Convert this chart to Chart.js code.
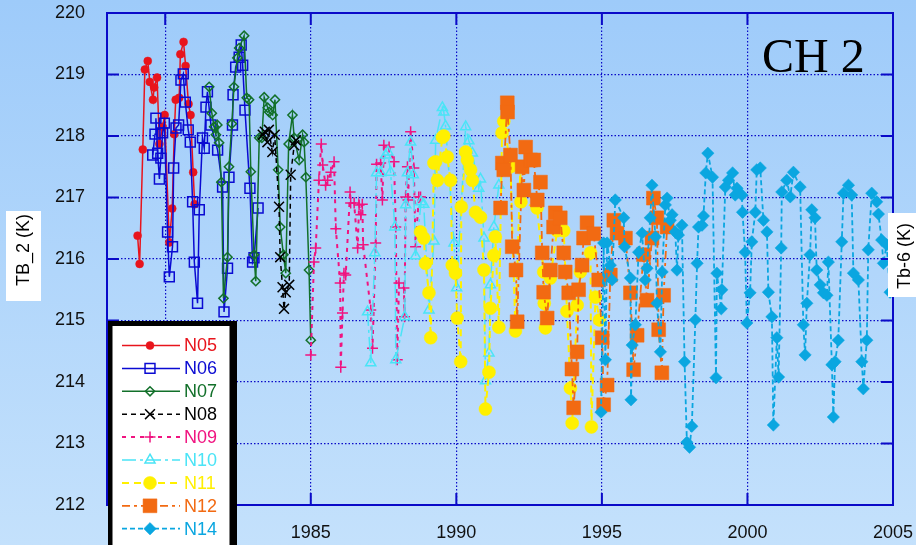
<!DOCTYPE html>
<html>
<head>
<meta charset="utf-8">
<script src="https://cdn.jsdelivr.net/npm/chart.js@4/dist/chart.umd.min.js"></script>
<style>
  html, body { margin: 0; padding: 0; background: #b2d7fb; }
  canvas { display: block; }
</style>
</head>
<body>
<canvas id="tb" width="916" height="545"></canvas>
<script>
// Channel 2 brightness temperature (K) per NOAA satellite, by decimal year.
const yearTicks = [1980, 1985, 1990, 1995, 2000, 2005];
const tbTicks = [212, 213, 214, 215, 216, 217, 218, 219, 220];

const n05Year = [1979.05,1979.12,1979.23,1979.30,1979.40,1979.47,1979.58,1979.62,1979.72,1979.80,
  1979.91,1979.98,1980.14,1980.24,1980.31,1980.36,1980.48,1980.52,1980.63,1980.70,
  1980.80,1980.87,1980.96,1981.01];
const n05Tb = [216.38,215.92,217.78,219.08,219.22,218.88,218.59,218.79,218.95,217.87,
  218.15,218.34,216.27,216.82,218.03,218.59,218.62,219.33,219.53,219.14,
  218.52,218.34,217.41,216.89];

const n06Year = [1979.57,1979.65,1979.68,1979.74,1979.80,1979.85,1979.91,1979.97,1980.08,1980.14,
  1980.25,1980.29,1980.37,1980.46,1980.54,1980.62,1980.69,1980.79,1980.86,1980.94,
  1981.00,1981.11,1981.17,1981.28,1981.34,1981.40,1981.45,1981.57,1981.80,1981.97,
  1982.02,1982.14,1982.19,1982.31,1982.33,1982.42,1982.54,1982.61,1982.66,1982.74,
  1982.91,1983.00,1983.05,1983.19];
const n06Tb = [217.69,218.03,218.29,217.72,217.30,217.64,218.05,218.21,216.44,215.71,
  216.20,217.48,218.13,218.18,218.91,219.01,218.55,218.10,217.90,216.93,
  215.95,215.28,216.80,217.97,217.80,218.47,218.72,218.18,217.77,217.17,
  215.14,215.85,217.33,218.18,218.67,219.12,219.28,219.48,219.15,218.42,
  217.15,215.95,216.02,216.83];

const n07Year = [1981.51,1981.60,1981.68,1981.74,1981.79,1981.85,1981.93,1982.00,1982.14,1982.19,
  1982.29,1982.36,1982.48,1982.54,1982.71,1982.80,1982.88,1982.94,1983.05,1983.11,
  1983.23,1983.32,1983.40,1983.52,1983.57,1983.69,1983.77,1983.88,1983.95,1984.06,
  1984.14,1984.24,1984.37,1984.43,1984.60,1984.72,1984.77,1984.83,1984.94,1985.00];
const n07Tb = [218.80,218.37,218.15,218.02,218.18,217.89,217.25,215.36,216.03,217.50,
  218.20,218.80,219.27,219.43,219.63,218.62,218.59,217.42,216.07,215.64,
  217.97,217.97,218.63,218.46,218.39,218.34,218.59,217.45,216.52,216.07,
  215.77,217.87,218.34,217.97,217.61,218.02,217.90,217.33,215.82,214.68];

const n08Year = [1983.35,1983.42,1983.51,1983.56,1983.68,1983.76,1983.91,1983.95,1984.03,1984.08,
  1984.14,1984.26,1984.31,1984.43,1984.49];
const n08Tb = [218.02,218.07,217.90,218.10,217.74,218.02,216.85,216.03,215.54,215.19,
  215.46,215.58,217.37,217.85,217.93];

const n09Year = [1985.00,1985.11,1985.17,1985.28,1985.36,1985.41,1985.51,1985.58,1985.69,1985.80,
  1985.86,1986.01,1986.03,1986.09,1986.14,1986.20,1986.35,1986.37,1986.49,1986.61,
  1986.66,1986.72,1986.77,1986.80,1987.06,1987.12,1987.23,1987.26,1987.40,1987.46,
  1987.51,1987.69,1987.86,1987.92,1987.97,1988.03,1988.20,1988.22,1988.26,1988.32,
  1988.34,1988.43,1988.54,1988.60,1988.71,1988.77];
const n09Tb = [214.44,215.95,216.18,217.28,217.87,217.53,217.20,217.28,217.41,217.58,
  216.49,215.61,214.24,215.12,215.77,215.74,217.09,216.91,216.91,216.18,
  216.88,216.72,216.89,216.23,215.17,214.55,216.26,217.54,217.56,216.96,
  217.85,217.82,217.58,216.52,214.36,215.61,215.53,215.06,217.01,217.50,
  216.96,218.07,217.48,216.20,217.01,217.01];

const n10Year = [1986.95,1987.06,1987.20,1987.26,1987.40,1987.57,1987.65,1987.74,1987.89,1987.92,
  1988.23,1988.26,1988.32,1988.43,1988.52,1988.60,1988.79,1988.88,1989.06,1989.23,
  1989.29,1989.52,1989.57,1989.63,1989.92,1990.01,1990.32,1990.43,1990.55,1990.77,
  1990.83,1990.95,1991.00,1991.12,1991.17,1991.29,1991.46];
const n10Tb = [215.14,214.31,216.10,217.40,217.40,217.69,217.74,217.41,216.52,214.36,
  215.06,216.88,217.40,217.90,217.37,216.05,216.93,216.89,215.17,216.29,
  217.93,218.46,218.39,218.16,216.26,215.53,218.15,217.92,217.72,217.15,
  217.30,216.34,214.02,214.47,215.58,216.52,217.20];

const n11Year = [1988.77,1988.88,1988.94,1989.06,1989.12,1989.23,1989.29,1989.35,1989.52,1989.57,
  1989.69,1989.80,1989.86,1989.97,1990.03,1990.15,1990.17,1990.32,1990.38,1990.49,
  1990.55,1990.66,1990.83,1990.95,1991.00,1991.12,1991.17,1991.29,1991.34,1991.46,
  1991.57,1991.63,1991.86,1992.03,1992.20,1992.22,1992.77,1993.00,1993.02,1993.06,
  1993.23,1993.46,1993.69,1993.80,1993.92,1993.98,1994.15,1994.26,1994.61,1994.64,
  1994.78,1994.92];
const n11Tb = [216.44,216.34,215.93,215.45,214.72,217.56,217.58,217.28,217.98,218.00,
  217.66,217.28,215.90,215.77,215.04,214.33,216.85,217.74,217.61,217.45,
  217.28,216.76,216.68,215.82,213.56,214.16,215.20,216.06,216.36,214.89,
  218.05,218.24,217.50,214.83,217.50,216.93,216.83,215.79,215.28,214.88,
  215.69,216.46,216.46,215.15,213.90,213.33,215.25,215.79,216.10,213.27,
  215.38,215.01];

const n12Year = [1991.52,1991.58,1991.63,1991.75,1991.76,1991.86,1991.92,1992.05,1992.09,1992.26,
  1992.32,1992.38,1992.55,1992.66,1992.78,1992.89,1992.95,1993.00,1993.12,1993.23,
  1993.34,1993.40,1993.57,1993.69,1993.74,1993.86,1993.97,1994.03,1994.15,1994.20,
  1994.32,1994.37,1994.49,1994.72,1994.89,1995.01,1995.06,1995.18,1995.29,1995.41,
  1995.52,1995.81,1995.98,1996.09,1996.21,1996.43,1996.55,1996.72,1996.77,1996.89,
  1996.95,1997.06,1997.12,1997.24];
const n12Tb = [216.83,217.56,217.45,218.54,218.39,217.69,216.20,215.82,214.98,217.50,
  217.12,217.82,217.61,217.61,216.96,217.25,216.10,215.46,215.04,215.82,
  216.52,216.75,216.67,216.10,215.79,215.45,214.21,213.58,214.49,215.50,
  215.90,216.34,216.59,216.41,215.66,214.72,213.63,213.95,215.74,216.63,
  216.42,216.34,215.45,214.20,214.76,216.07,215.33,216.34,216.99,216.67,
  214.85,214.15,215.41,216.52];

const n14Year = [1994.97,1995.06,1995.12,1995.18,1995.29,1995.35,1995.46,1995.75,1995.78,1995.98,
  1996.00,1996.04,1996.15,1996.26,1996.38,1996.49,1996.55,1996.66,1996.72,1996.84,
  1996.89,1997.01,1997.07,1997.18,1997.24,1997.35,1997.41,1997.52,1997.58,1997.63,
  1997.75,1997.84,1997.92,1998.01,1998.09,1998.21,1998.27,1998.32,1998.44,1998.49,
  1998.57,1998.64,1998.80,1998.92,1998.95,1999.10,1999.12,1999.24,1999.35,1999.49,
  1999.58,1999.64,1999.81,1999.83,1999.92,1999.98,2000.09,2000.15,2000.27,2000.32,
  2000.44,2000.55,2000.67,2000.72,2000.84,2000.89,2001.01,2001.07,2001.16,2001.18,
  2001.35,2001.47,2001.58,2001.81,2001.92,2001.98,2002.04,2002.15,2002.21,2002.32,
  2002.38,2002.50,2002.61,2002.73,2002.78,2002.90,2002.95,2003.01,2003.12,2003.24,
  2003.30,2003.47,2003.58,2003.64,2003.81,2003.93,2003.98,2004.10,2004.15,2004.27,
  2004.44,2004.50,2004.61,2004.67,2004.78,2004.90];
const n14Tb = [213.51,216.26,214.36,216.26,215.90,215.66,216.96,216.67,216.20,215.69,
  213.71,214.60,214.93,216.11,216.42,215.66,215.85,216.67,217.20,216.36,
  215.28,214.49,215.79,216.88,216.99,216.63,216.72,216.44,215.82,216.39,
  216.55,214.33,213.02,212.94,213.28,215.01,215.93,216.52,216.55,216.70,
  217.40,217.72,217.33,214.07,215.77,215.19,215.50,217.17,217.28,217.40,
  217.04,217.15,217.04,216.76,216.11,214.96,215.45,216.28,216.76,217.45,
  217.48,216.63,216.44,215.46,215.06,213.30,214.72,214.08,216.18,217.09,
  217.28,217.01,217.41,217.17,214.93,214.44,215.28,216.07,216.80,216.67,
  215.82,215.58,215.45,215.41,215.95,214.28,213.43,214.33,214.68,216.28,
  217.07,217.20,217.04,215.77,215.66,214.33,213.89,214.68,216.15,217.07,
  216.93,216.73,216.31,215.93,216.23,215.46];

const satNames = ['N05', 'N06', 'N07', 'N08', 'N09', 'N10', 'N11', 'N12', 'N14'];
const satYears = [n05Year, n06Year, n07Year, n08Year, n09Year, n10Year, n11Year, n12Year, n14Year];
const satTb = [n05Tb, n06Tb, n07Tb, n08Tb, n09Tb, n10Tb, n11Tb, n12Tb, n14Tb];

// Drawing style for each satellite's series
const styles = [
  { color: '#e8141c', dash: [],            width: 1.5, point: 'circle',   r: 4,   open: false },
  { color: '#0a0ad2', dash: [],            width: 1.5, point: 'rect',     r: 7,   open: true  },
  { color: '#12702a', dash: [],            width: 1.5, point: 'rectRot',  r: 4.6, open: true  },
  { color: '#000000', dash: [5, 4],        width: 1.5, point: 'crossRot', r: 7,   open: true  },
  { color: '#f01480', dash: [4, 5],        width: 2,   point: 'cross',    r: 5.5, open: true  },
  { color: '#4ae4f6', dash: [14, 4, 3, 4], width: 1.5, point: 'triangle', r: 5.8, open: true  },
  { color: '#fff000', dash: [7, 5],        width: 2,   point: 'circle',   r: 6.5, open: false },
  { color: '#f26a12', dash: [8, 4, 3, 4],  width: 1.8, point: 'rect',     r: 9.8, open: false },
  { color: '#0aa6e0', dash: [5, 3],        width: 1.8, point: 'rectRot',  r: 6.2, open: false }
];

const datasets = satNames.map((name, i) => {
  const s = styles[i];
  return {
    label: name,
    data: satYears[i].map((yr, k) => ({ x: yr, y: satTb[i][k] })),
    showLine: true,
    tension: 0,
    borderColor: s.color,
    borderWidth: s.width,
    borderDash: s.dash,
    pointStyle: s.point,
    pointRadius: s.r,
    pointHoverRadius: s.r,
    pointBackgroundColor: s.open ? 'rgba(0,0,0,0)' : s.color,
    pointBorderColor: s.color,
    pointBorderWidth: s.open ? 1.5 : 0.5,
    order: satNames.length - i
  };
});

const AXIS_BLUE = '#0a0ac8';
const SANS = '"Liberation Sans", Arial, sans-serif';

const backdrop = {
  id: 'backdrop',
  beforeDraw(chart) {
    const { ctx, width, height } = chart;
    const g = ctx.createLinearGradient(0, 0, 0, height);
    g.addColorStop(0, '#9ecbfa');
    g.addColorStop(1, '#c4e1fc');
    ctx.save();
    ctx.fillStyle = g;
    ctx.fillRect(0, 0, width, height);
    ctx.restore();
  }
};

const frame = {
  id: 'frame',
  afterDatasetsDraw(chart) {
    const { ctx, chartArea: a, scales } = chart;
    const xs = scales.x, ys = scales.y;
    ctx.save();
    ctx.strokeStyle = AXIS_BLUE;
    ctx.lineWidth = 2;
    ctx.setLineDash([]);
    ctx.strokeRect(a.left, a.top, a.right - a.left, a.bottom - a.top);
    ctx.beginPath();
    tbTicks.forEach(v => {
      const py = ys.getPixelForValue(v);
      ctx.moveTo(a.left, py); ctx.lineTo(a.left + 12, py);
      ctx.moveTo(a.right, py); ctx.lineTo(a.right - 12, py);
    });
    yearTicks.forEach(v => {
      const px = xs.getPixelForValue(v);
      ctx.moveTo(px, a.bottom); ctx.lineTo(px, a.bottom - 12);
      ctx.moveTo(px, a.top); ctx.lineTo(px, a.top + 12);
    });
    ctx.stroke();
    ctx.restore();
  }
};

const annotations = {
  id: 'annotations',
  afterDraw(chart) {
    const ctx = chart.ctx;
    ctx.save();

    // channel title
    ctx.fillStyle = '#000';
    ctx.font = '48px "Liberation Serif", "Times New Roman", serif';
    ctx.textAlign = 'left';
    ctx.textBaseline = 'alphabetic';
    ctx.fillText('CH 2', 762, 72);

    // left and right axis titles on white tags
    const tag = (x, y, w, h, cx, cy, text) => {
      ctx.fillStyle = '#fff';
      ctx.fillRect(x, y, w, h);
      ctx.save();
      ctx.translate(cx, cy);
      ctx.rotate(-Math.PI / 2);
      ctx.fillStyle = '#000';
      ctx.font = '18px ' + SANS;
      ctx.textAlign = 'center';
      ctx.textBaseline = 'middle';
      ctx.fillText(text, 0, 0);
      ctx.restore();
    };
    tag(6, 211, 35, 90, 24, 250, 'TB_2 (K)');
    tag(888, 213, 28, 84, 905, 256, 'Tb-6 (K)');

    // legend box
    ctx.fillStyle = '#000';
    ctx.fillRect(108, 321, 129, 230);
    ctx.fillStyle = '#fff';
    ctx.fillRect(112.5, 326, 117, 230);
    chart.data.datasets.forEach((ds, i) => {
      const y = 345.5 + i * 22.9;
      ctx.setLineDash(ds.borderDash);
      ctx.strokeStyle = ds.borderColor;
      ctx.lineWidth = ds.borderWidth;
      ctx.beginPath();
      ctx.moveTo(122, y);
      ctx.lineTo(180, y);
      ctx.stroke();
      ctx.setLineDash([]);
      ctx.fillStyle = ds.pointBackgroundColor;
      ctx.strokeStyle = ds.pointBorderColor;
      ctx.lineWidth = ds.pointBorderWidth;
      Chart.helpers.drawPoint(ctx, {
        pointStyle: ds.pointStyle, radius: ds.pointRadius,
        borderWidth: ds.pointBorderWidth, rotation: 0
      }, 150, y);
      ctx.fillStyle = ds.borderColor;
      ctx.font = '18px ' + SANS;
      ctx.textAlign = 'left';
      ctx.textBaseline = 'middle';
      ctx.fillText(ds.label, 184, y + 1);
    });
    ctx.restore();
  }
};

const HIDDEN = 'rgba(0,0,0,0)';

new Chart(document.getElementById('tb'), {
  type: 'scatter',
  data: { datasets },
  options: {
    responsive: false,
    devicePixelRatio: 1,
    animation: false,
    layout: { autoPadding: false, padding: { top: 13, right: 23, left: 0, bottom: 0 } },
    plugins: { legend: { display: false }, tooltip: { enabled: false } },
    scales: {
      x: {
        type: 'linear',
        min: 1978,
        max: 2005,
        afterFit(scale) { scale.height = 40; },
        afterBuildTicks(scale) {
          scale.ticks = [1978].concat(yearTicks).map(v => ({ value: v }));
        },
        ticks: {
          autoSkip: false,
          maxRotation: 0,
          padding: 0,
          color: '#111',
          font: { family: SANS, size: 18 },
          callback: v => (v % 5 === 0 ? String(v) : '')
        },
        grid: { color: AXIS_BLUE, lineWidth: 1.2, drawTicks: true, tickLength: 17, tickColor: HIDDEN },
        border: { display: false, dash: [1.5, 2] }
      },
      y: {
        min: 212,
        max: 220,
        afterFit(scale) { scale.width = 107; },
        afterBuildTicks(scale) {
          scale.ticks = tbTicks.map(v => ({ value: v }));
        },
        ticks: {
          padding: 0,
          color: '#111',
          font: { family: SANS, size: 18 },
          callback: v => String(v)
        },
        grid: { color: AXIS_BLUE, lineWidth: 1.2, drawTicks: true, tickLength: 22, tickColor: HIDDEN },
        border: { display: false, dash: [1.5, 2] }
      }
    }
  },
  plugins: [backdrop, frame, annotations]
});
</script>
</body>
</html>
